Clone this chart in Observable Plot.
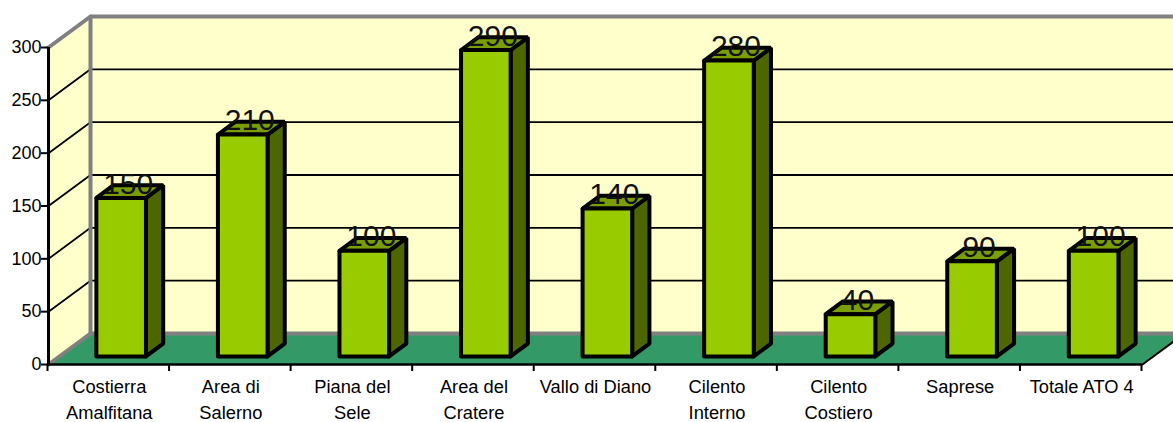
<!DOCTYPE html>
<html>
<head>
<meta charset="utf-8">
<script src="https://cdn.jsdelivr.net/npm/d3@7"></script>
<script src="https://cdn.jsdelivr.net/npm/@observablehq/plot@0.6"></script>
<style>
html,body{margin:0;padding:0;background:#fff;overflow:hidden}
</style>
</head>
<body>
<div id="chart"></div>
<script>
const categories = ["Costierra\nAmalfitana","Area di\nSalerno","Piana del\nSele","Area del\nCratere","Vallo di Diano","Cilento\nInterno","Cilento\nCostiero","Saprese","Totale ATO 4"];
const values = [150,210,100,290,140,280,40,90,100];
const yTicks = [0,50,100,150,200,250,300];

// Oblique projection: a point at depth z (0 front, 1 back wall) shifts in data units.
const skewX = 42 / (1094 / 9);
const skewY = 31 / (317 / 300);
const P = (c, v, z = 0, id = 0) => ({x: c + z * skewX, y: v + z * skewY, id});
const poly = (id, pts) => [...pts, pts[0]].map(([c, v, z]) => P(c, v, z, id));

const n = categories.length, yMax = 300;
const barW = 0.408, barShift = 0.008, zF = 0.26, zB = 0.67;
const x0 = i => i + 0.5 + barShift - barW / 2, x1 = i => i + 0.5 + barShift + barW / 2;

const backWall = poly(0, [[0,0,1],[n,0,1],[n,yMax,1],[0,yMax,1]]);
const sideWall = poly(0, [[0,0,0],[0,0,1],[0,yMax,1],[0,yMax,0]]);
const floorPlane = poly(0, [[0,0,0],[n,0,0],[n,0,1],[0,0,1]]);
const gridLines = yTicks.slice(1, -1).flatMap((v, id) => [P(0,v,0,id), P(0,v,1,id), P(n,v,1,id)]);
const wallFrame = [P(0,yMax,0,0), P(0,yMax,1,0), P(n,yMax,1,0), P(0,0,0,1), P(0,0,1,1), P(n,0,1,1), P(0,0,1,2), P(0,yMax,1,2)];
const rightEdge = [P(n,0,0), P(n,0,1)];

const fronts = values.flatMap((v,i) => poly(i, [[x0(i),0,zF],[x1(i),0,zF],[x1(i),v,zF],[x0(i),v,zF]]));
const sides = values.flatMap((v,i) => poly(i, [[x1(i),0,zF],[x1(i),0,zB],[x1(i),v,zB],[x1(i),v,zF]]));
const tops = values.flatMap((v,i) => poly(i, [[x0(i),v,zF],[x1(i),v,zF],[x1(i),v,zB],[x0(i),v,zB]]));

const pathMark = (d, o) => Plot.line(d, {x:"x", y:"y", z:"id", strokeLinejoin:"miter", ...o});
const face = (d, fill) => pathMark(d, {fill, stroke:"#000", strokeWidth:4});

const chart = Plot.plot({
  width: 1173, height: 422,
  marginTop: 47, marginBottom: 58, marginLeft: 48, marginRight: 31,
  style: {fontFamily: "'Liberation Sans', Arial, sans-serif", fontSize: "18px", background: "#fff", color: "#000"},
  x: {domain: [0, n], axis: null},
  y: {domain: [0, yMax], axis: null},
  marks: [
    pathMark(backWall, {fill:"#FFFFCC", stroke:"none"}),
    pathMark(sideWall, {fill:"#FFFFCC", stroke:"none"}),
    pathMark(gridLines, {stroke:"#000", strokeWidth:1.8}),
    pathMark(floorPlane, {fill:"#339966", stroke:"none"}),
    pathMark(wallFrame, {stroke:"#808080", strokeWidth:4}),
    pathMark(rightEdge, {stroke:"#000", strokeWidth:2}),
    Plot.ruleX([0], {y1:0, y2:yMax, stroke:"#000", strokeWidth:3}),
    Plot.ruleY([0], {x1:0, x2:n, stroke:"#000", strokeWidth:2.5}),
    Plot.axisY({ticks: yTicks, tickSize: 7, tickPadding: 0, strokeWidth: 2, stroke:"#000", fill:"#000", label: null}),
    Plot.axisX({ticks: d3.range(n + 1), tickSize: 7, tickFormat: () => "", strokeWidth: 2, stroke:"#000", label: null, dx: -1}),
    Plot.text(categories, {
      x: (d,i) => i + 0.5, y: () => 0, text: d => d,
      lineAnchor: "top", dy: 10, lineHeight: 1.43, fill: "#000", fontSize: 18.3
    }),
    face(sides, "#4D6600"),
    face(tops, "#7A9E00"),
    face(fronts, "#99CC00"),
    Plot.text(values, {
      x: (d,i) => i + 0.5 + 0.45 * skewX, y: d => d + 0.45 * skewY, text: d => String(d),
      dy: -8, fontSize: 30, fill: "#111", textAnchor: "middle"
    })
  ]
});
document.getElementById("chart").append(chart);
</script>
</body>
</html>
